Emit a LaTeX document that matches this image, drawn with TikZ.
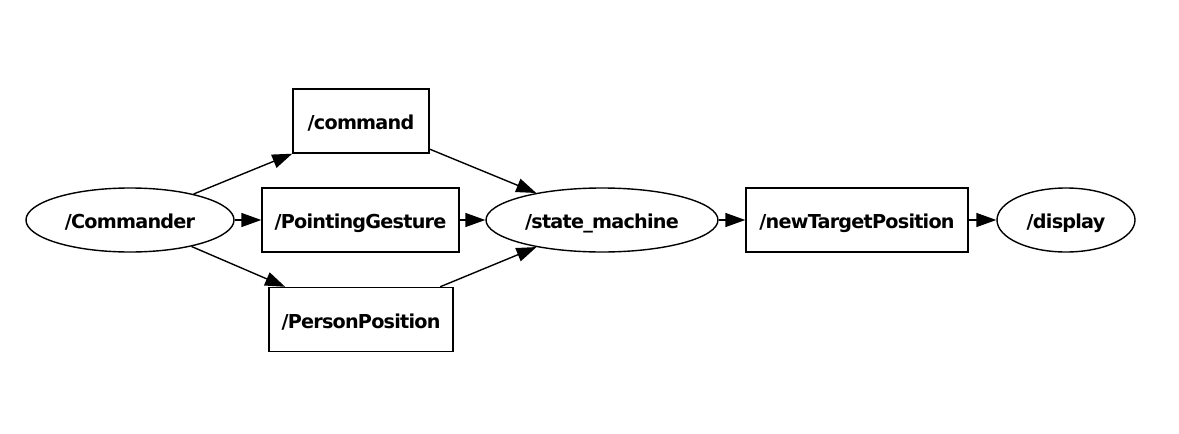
\documentclass[tikz,border=0pt]{standalone}
\usepackage{fontspec}
\setmainfont{DejaVu Sans}[LetterSpace=-4]
\usetikzlibrary{shapes.geometric,arrows.meta}
\begin{document}
\begin{tikzpicture}[x=1pt,y=-1pt,
  lbl/.style={font=\fontsize{19.2}{22}\selectfont\bfseries, inner sep=0pt, draw=black, line width=1.4pt, minimum height=64pt, text height=17.5pt, text depth=0pt},
  topic/.style={lbl, rectangle},
  proc/.style={lbl, ellipse},
  conn/.style={line width=1.4pt, -{Triangle[length=20pt,width=14pt]}}]
\useasboundingbox (0,0) rectangle (1179,434);
\node[proc, minimum width=208pt] (commander) at (130,220) {/Commander};
\node[topic, minimum width=136pt] (command) at (361,121) {/command};
\node[topic, minimum width=197pt] (pointing) at (360.5,220) {/PointingGesture};
\node[topic, minimum width=184pt] (person) at (361,319.5) {/PersonPosition};
\node[proc, minimum width=232pt] (sm) at (602,220) {/state\_machine};
\node[topic, minimum width=222pt] (target) at (857,220) {/newTargetPosition};
\node[proc, minimum width=138pt] (display) at (1066,220) {/display};
\draw[conn] (commander) -- (command.south west);
\draw[conn] (commander) -- (pointing);
\draw[conn] (commander) -- (person);
\draw[conn] (command) -- (sm);
\draw[conn] (pointing) -- (sm);
\draw[conn] (person) -- (sm);
\draw[conn] (sm) -- (target);
\draw[conn] (target) -- (display);
\end{tikzpicture}
\end{document}
